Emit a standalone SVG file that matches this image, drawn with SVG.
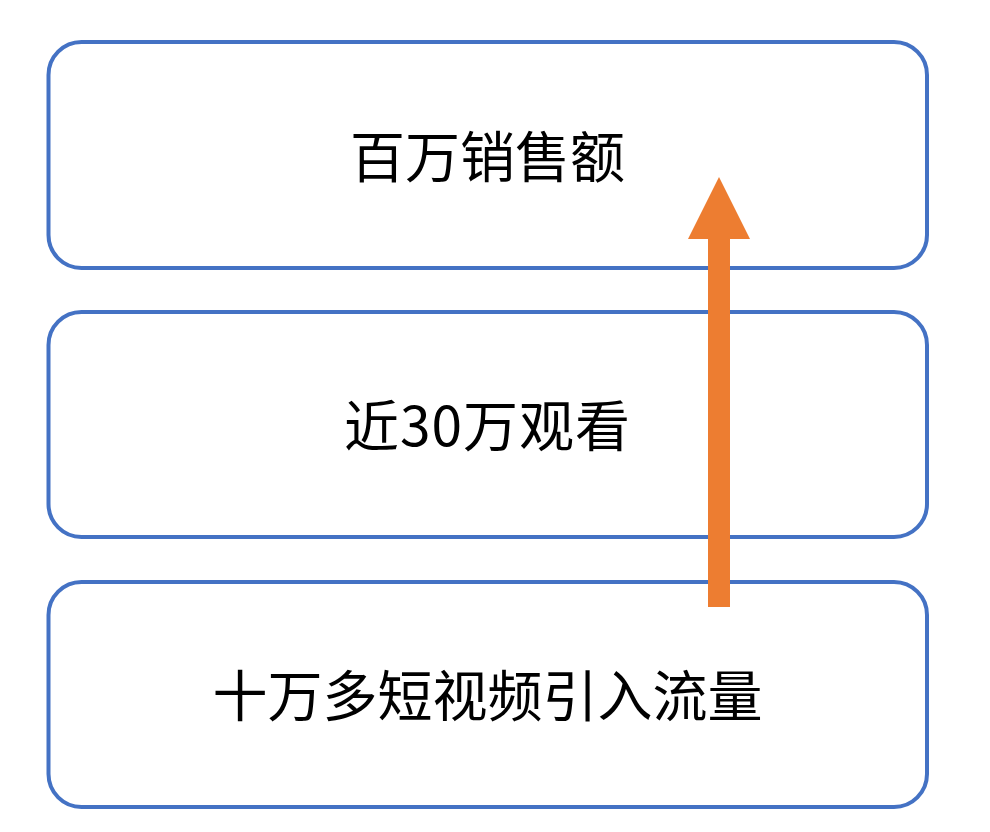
<svg xmlns="http://www.w3.org/2000/svg" width="990" height="832" viewBox="0 0 990 832">
<style>
.box{fill:#ffffff;stroke:#4472C4;stroke-width:4}
.lbl{font-family:"Noto Sans CJK SC","Noto Sans",sans-serif;font-size:55px;fill:#000000;text-anchor:middle;dominant-baseline:central}
.arrow{fill:#ED7D31}
</style>
<rect width="990" height="832" fill="#ffffff"/>
<g id="node-sales">
<rect class="box" x="48.5" y="42" width="878.5" height="226" rx="33" ry="33"/>
<text class="lbl" x="487.5" y="153">百万销售额</text>
</g>
<g id="node-views">
<rect class="box" x="48.5" y="312" width="878.5" height="225" rx="33" ry="33"/>
<text class="lbl" x="487.5" y="422" letter-spacing="1">近30万观看</text>
</g>
<g id="node-traffic">
<rect class="box" x="48.5" y="582" width="878.5" height="225" rx="33" ry="33"/>
<text class="lbl" x="487.5" y="692">十万多短视频引入流量</text>
</g>
<g id="connectors">
<polygon class="arrow" points="708,607 730,607 730,239 750,239 719,177 688,239 708,239"/>
</g>
</svg>
